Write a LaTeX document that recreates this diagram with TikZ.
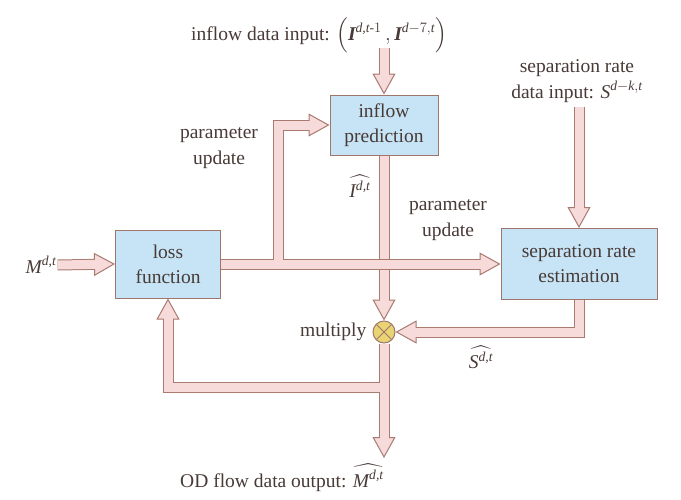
\documentclass[tikz,border=0pt]{standalone}
\usepackage{fontspec}
\setmainfont{Liberation Serif}
\usepackage{amsmath}
\usepackage{amssymb}
\usetikzlibrary{arrows.meta, positioning}
\definecolor{boxfill}{RGB}{198, 228, 246}
\definecolor{boxborder}{RGB}{160, 118, 108}
\definecolor{pipefill}{RGB}{247, 218, 218}
\definecolor{pipeedge}{RGB}{168, 122, 112}
\definecolor{mulfill}{RGB}{232, 212, 115}
\definecolor{txt}{RGB}{72, 58, 54}
\newcommand{\vi}[1]{\text{\itshape #1}}
\newcommand{\vb}[1]{\text{\bfseries\itshape #1}}
\tikzstyle{block} = [rectangle, draw=boxborder, fill=boxfill, line width=1pt, inner sep=0pt,
                     align=center, text=txt, font=\fontsize{19.5}{25}\selectfont]
\tikzstyle{remark} = [align=center, text=txt, inner sep=1pt, font=\fontsize{19.5}{26}\selectfont]
\tikzstyle{mul} = [circle, draw=boxborder, fill=mulfill, line width=1pt, minimum size=22pt, inner sep=0pt,
                   path picture={\draw[boxborder, line width=0.8pt]
                     (path picture bounding box.north west) -- (path picture bounding box.south east)
                     (path picture bounding box.north east) -- (path picture bounding box.south west);}]
\tikzstyle{pipeout} = [draw=pipeedge, line width=11pt,
                       -{Triangle[width=23pt, length=21pt, line width=1pt, fill=pipefill]}]
\tikzstyle{pipein} = [draw=pipefill, line width=9pt, shorten >=19pt]
\newcommand{\pipe}[1]{\draw[pipeout] #1; \draw[pipein] #1;}

\begin{document}
\begin{tikzpicture}[x=1pt, y=-1pt]
    \useasboundingbox (0,0) rectangle (681,499);

    % Blocks
    \node[block, minimum width=108pt, minimum height=60pt] (inflow) at (384,125) {inflow\\prediction};
    \node[block, minimum width=105pt, minimum height=68pt] (loss) at (168,264) {loss\\function};
    \node[block, minimum width=156pt, minimum height=71pt] (sep) at (579,264) {separation rate\\estimation};
    \node[mul] (mul) at (384,332) {};

    % Texts
    \node[remark, anchor=base] (inflowin) at (319,40)
        {inflow data input: $\Big(\vb{I}^{\vi{d,t}\text{-}1}\,,\vb{I}^{\vi{d}-7,\vi{t}}\Big)$};
    \node[remark] (sepin) at (577,81) {separation rate\\data input: $\vi{S}^{\vi{d}-\vi{k},\vi{t}}$};
    \node[remark] (min) at (41,265) {$\vi{M}^{\vi{d,t}}$};
    \node[remark, left=5pt of mul] (multxt) {multiply};
    \node[remark] (pu1) at (219,148) {parameter\\update};
    \node[remark] (pu2) at (448,220) {parameter\\update};
    \node[remark] (ihat) at (360,186) {$\widehat{\vi{I}^{\vi{d,t}}}$};
    \node[remark] (shat) at (481,357) {$\widehat{\vi{S}^{\vi{d,t}}}$};
    \node[remark, anchor=base] (outlbl) at (282,487) {OD flow data output: $\widehat{\vi{M}^{\vi{d,t}}}$};

    \coordinate (intop) at (384,48);
    \coordinate (septop) at (579,107);
    \coordinate (outtip) at (384,458);
    \coordinate (ja) at (278,264);
    \coordinate (jb) at (384,387);

    % Pipes
    \pipe{(intop) -- (inflow.north)}
    \pipe{(septop) -- (sep.north)}
    \pipe{(min.east) -- (loss.west)}
    \pipe{(inflow.south) -- (mul.north)}
    \pipe{(sep.south) |- (mul.east)}

    \draw[pipeout] (loss.east) -- (sep.west);
    \draw[pipeout] (ja) |- (inflow.west);
    \draw[pipein] (loss.east) -- (sep.west);
    \draw[pipein] (ja) |- (inflow.west);

    \draw[pipeout] (mul.south) -- (outtip);
    \draw[pipeout] (jb) -| (loss.south);
    \draw[pipein] (mul.south) -- (outtip);
    \draw[pipein] (jb) -| (loss.south);
\end{tikzpicture}
\end{document}
